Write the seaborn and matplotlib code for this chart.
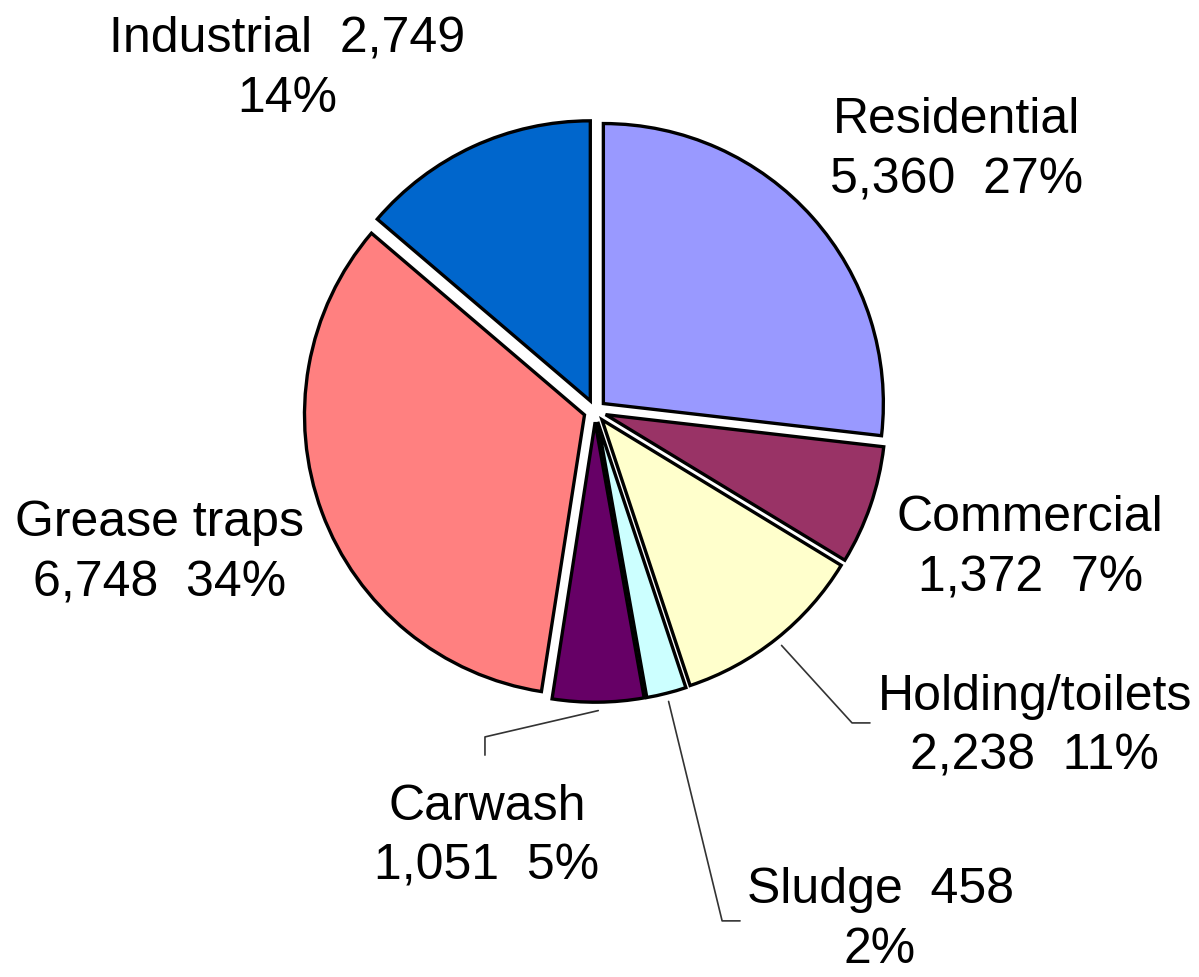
import matplotlib
matplotlib.use("Agg")
import matplotlib.pyplot as plt
import seaborn as sns
import numpy as np

# data
categories = ["Residential", "Commercial", "Holding/toilets", "Sludge",
              "Carwash", "Grease traps", "Industrial"]
values = [5360, 1372, 2238, 458, 1051, 6748, 2749]
colors = ["#9999FF", "#993366", "#FFFFCC", "#CCFFFF", "#660066", "#FF8080", "#0066CC"]
# label layout: break line after the name (True) or after the value (False)
break_after_name = [True, True, True, False, True, True, False]

sns.set_theme(style="white")
plt.rcParams["font.family"] = ["Liberation Sans", "DejaVu Sans"]

fig = plt.figure(figsize=(11.99, 9.78), dpi=100)
ax = fig.add_axes([0, 0, 1, 1])

wedges, _ = ax.pie(values, colors=colors, startangle=90, counterclock=False,
                   explode=[0.04] * len(values), radius=1,
                   wedgeprops=dict(edgecolor="black", linewidth=2.4))

total = sum(values)
label_pos = {
    "Residential": (1.293, 0.935),
    "Commercial": (1.554, -0.485),
    "Holding/toilets": (1.571, -1.124),
    "Sludge": (1.018, -1.815),
    "Carwash": (-0.386, -1.517),
    "Grease traps": (-1.554, -0.505),
    "Industrial": (-1.10, 1.225),
}
# leader line elbows (corner, end near label)
leaders = {
    "Holding/toilets": [(0.918, -1.114), (0.982, -1.114)],
    "Sludge": [(0.454, -1.821), (0.518, -1.821)],
    "Carwash": [(-0.393, -1.164), (-0.393, -1.229)],
}

for w, name, v, brk in zip(wedges, categories, values, break_after_name):
    pct = round(100 * v / total)
    if brk:
        txt = f"{name}\n{v:,}  {pct}%"
    else:
        txt = f"{name}  {v:,}\n{pct}%"
    x, y = label_pos[name]
    ax.text(x, y, txt, ha="center", va="center", fontsize=36,
            linespacing=1.4, color="black")
    if name in leaders:
        ang = np.deg2rad((w.theta1 + w.theta2) / 2)
        cx, cy = w.center
        sx, sy = cx + 1.03 * np.cos(ang), cy + 1.03 * np.sin(ang)
        pts = [(sx, sy)] + leaders[name]
        ax.plot([p[0] for p in pts], [p[1] for p in pts], color="#333333", lw=1.2)

ax.set_xlim(-595 / 280, (1199 - 595) / 280)
ax.set_ylim(-(978 - 412) / 280, 412 / 280)
ax.set_aspect("equal")
ax.axis("off")

fig.savefig("out.png", dpi=100)
